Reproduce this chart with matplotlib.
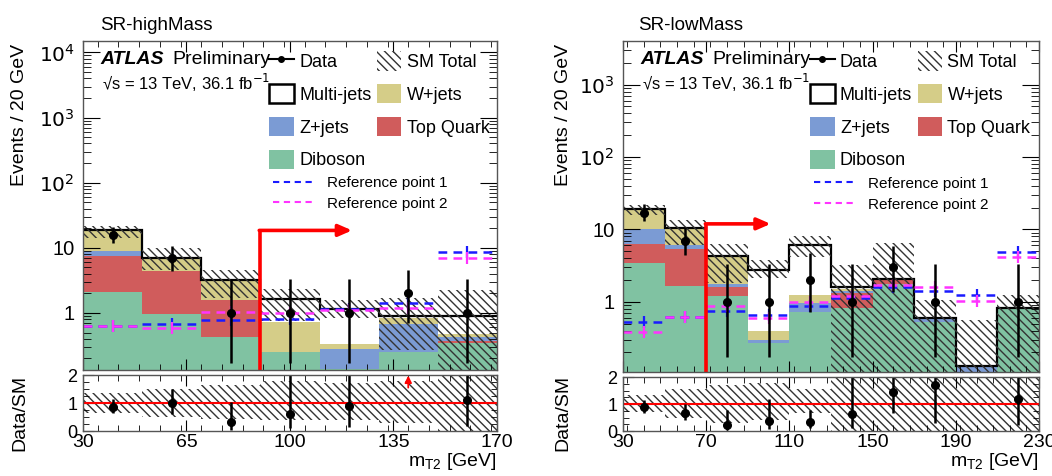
import numpy as np
import matplotlib
matplotlib.use('Agg')
import matplotlib.pyplot as plt
from matplotlib.patches import Patch
from matplotlib.lines import Line2D
from matplotlib.ticker import FixedLocator, MultipleLocator, LogLocator, FuncFormatter, NullFormatter

plt.rcParams['font.family'] = ['Liberation Sans', 'DejaVu Sans']
plt.rcParams['hatch.linewidth'] = 1.0
plt.rcParams['hatch.color'] = '#333333'

# ---------------- data: SR-highMass ----------------
hm_edges = [30, 50, 70, 90, 110, 130, 150, 170]
hm_diboson = [2.13, 0.96, 0.42, 0.25, 0.14, 0.25, 0.34]
hm_top = [5.37, 3.44, 1.16, 0.0, 0.0, 0.0, 0.03]
hm_zjets = [1.3, 0.0, 0.0, 0.0, 0.14, 0.43, 0.06]
hm_wjets = [9.7, 2.7, 1.62, 0.47, 0.05, 0.17, 0.04]
hm_multijet = [0.0, 0.0, 0.0, 0.9, 0.81, 0.06, 0.43]
hm_band_lo = [14.0, 4.6, 1.7, 0.75, 0.83, 0.27, 0.1]
hm_band_hi = [21.3, 9.9, 4.6, 2.34, 1.58, 1.7, 2.26]
hm_ratio_band_lo = [0.64, 0.51, 0.42, 0.4, 0.4, 0.28, 0.0]
hm_ratio_band_hi = [1.36, 1.5, 1.65, 1.77, 1.72, 1.77, 2.0]
hm_data = [16, 7, 1, 1, 1, 2, 1]
hm_data_lo = [3.96, 2.58, 0.83, 0.83, 0.83, 1.29, 0.83]
hm_data_hi = [5.08, 3.78, 2.30, 2.30, 2.30, 2.64, 2.30]
hm_ref1 = [0.63, 0.68, 0.78, 0.81, 1.14, 1.41, 8.5]
hm_ref2 = [0.62, 0.58, 1.05, 1.0, 1.12, 1.2, 6.9]
hm_cut = 90
hm_arrow_end = 121
hm_arrow_y = 18.5

# ---------------- data: SR-lowMass ----------------
lm_edges = [30, 50, 70, 90, 110, 130, 150, 170, 190, 210, 230]
lm_diboson = [3.4, 1.67, 1.2, 0.27, 0.73, 0.83, 1.74, 0.53, 0.0, 0.83]
lm_top = [2.9, 3.73, 0.38, 0.0, 0.0, 0.47, 0.31, 0.0, 0.0, 0.0]
lm_zjets = [3.8, 0.7, 0.16, 0.03, 0.24, 0.12, 0.0, 0.06, 0.128, 0.0]
lm_wjets = [9.1, 4.5, 2.56, 0.09, 0.27, 0.1, 0.0, 0.0, 0.0, 0.0]
lm_multijet = [0.0, 0.0, 0.0, 2.36, 4.76, 0.06, 0.0, 0.0, 0.0, 0.0]
lm_band_lo = [16.0, 6.0, 1.8, 2.1, 4.2, 0.1, 0.1, 0.1, 0.1, 0.1]
lm_band_hi = [22.0, 13.6, 6.3, 3.8, 8.0, 3.2, 6.5, 1.05, 0.56, 1.24]
lm_ratio_band_lo = [0.72, 0.48, 0.29, 0.41, 0.66, 0.0, 0.0, 0.0, 0.0, 0.0]
lm_ratio_band_hi = [1.35, 1.54, 1.72, 1.79, 1.54, 2.0, 2.0, 2.0, 2.0, 2.0]
lm_data = [17, 7, 1, 1, 2, 1, 3, 1, 0, 1]
lm_data_lo = [4.08, 2.58, 0.83, 0.83, 1.29, 0.83, 1.63, 0.83, 0.0, 0.83]
lm_data_hi = [5.20, 3.78, 2.30, 2.30, 2.64, 2.30, 2.92, 2.30, 0.0, 2.30]
lm_ref1 = [0.52, 0.61, 0.75, 0.65, 0.87, 1.14, 1.58, 1.4, 1.24, 4.8]
lm_ref2 = [0.38, 0.61, 0.88, 0.6, 0.98, 1.2, 1.7, 1.6, 1.02, 4.2]
lm_cut = 70
lm_arrow_end = 101
lm_arrow_y = 11.9

COLORS = {
    'Diboson': '#80c2a2',
    'Top Quark': '#d05c5c',
    'Z+jets': '#7b9bd4',
    'W+jets': '#d5cd88',
    'Multi-jets': 'white',
}
HATCH = '\\\\\\\\'


def log_fmt(v, pos):
    if v == 1:
        return '1'
    if v == 10:
        return '10'
    return '$10^{%d}$' % int(round(np.log10(v)))


def draw_panel(ax, rax, edges, layers, band_lo, band_hi, rband_lo, rband_hi,
               data, dlo, dhi, ref1, ref2, cut, arrow_end, arrow_y,
               ylim, xticks, title, fig_title_xy):
    edges = np.array(edges, dtype=float)
    centers = 0.5 * (edges[:-1] + edges[1:])
    widths = np.diff(edges)

    # stacked histogram
    bottom = np.zeros(len(centers))
    for name, vals in layers:
        vals = np.array(vals)
        top = bottom + vals
        ax.bar(centers, top - np.maximum(bottom, 1e-4), width=widths,
               bottom=np.maximum(bottom, 1e-4), color=COLORS[name],
               linewidth=0)
        bottom = top
    total = bottom
    ax.stairs(total, edges, color='black', linewidth=1.6, baseline=None)

    # uncertainty band
    band_lo = np.array(band_lo)
    band_hi = np.array(band_hi)
    ax.bar(centers, band_hi - band_lo, width=widths, bottom=band_lo,
           fill=False, hatch=HATCH, edgecolor='#333333', linewidth=0)

    # reference points
    for vals, col in ((ref1, '#1a1aff'), (ref2, '#ff33ff')):
        for c, w, v in zip(centers, widths, vals):
            ax.plot([c - w / 2, c + w / 2], [v, v], color=col, lw=1.8,
                    dashes=(3.5, 2.5))
            ax.plot([c], [v], marker='|', ms=9, mew=1.6, color=col)

    # data
    data = np.array(data, dtype=float)
    m = data > 0
    ax.errorbar(centers[m], data[m], yerr=[np.array(dlo)[m], np.array(dhi)[m]],
                fmt='o', color='black', ms=5.5, elinewidth=1.8, capsize=0)

    # cut arrow
    ax.plot([cut, cut], [ylim[0], arrow_y], color='red', lw=2.6,
            solid_capstyle='butt')
    ax.annotate('', xy=(arrow_end, arrow_y), xytext=(cut - 0.4, arrow_y),
                arrowprops=dict(arrowstyle='-|>,head_length=0.8,head_width=0.35',
                                color='red', lw=2.6, shrinkA=0, shrinkB=0))

    ax.set_yscale('log')
    ax.set_xlim(edges[0], edges[-1])
    ax.set_ylim(*ylim)
    ax.yaxis.set_major_locator(LogLocator(base=10, numticks=10))
    ax.yaxis.set_minor_locator(LogLocator(base=10, subs=np.arange(2, 10), numticks=20))
    ax.yaxis.set_major_formatter(FuncFormatter(log_fmt))
    ax.yaxis.set_minor_formatter(NullFormatter())
    ax.xaxis.set_major_locator(FixedLocator(xticks))
    ax.xaxis.set_minor_locator(MultipleLocator((xticks[1] - xticks[0]) / 5))
    ax.tick_params(axis='x', labelbottom=False)
    ax.tick_params(which='both', direction='in', top=True, right=True)
    ax.tick_params(axis='y', which='major', length=12, labelsize=14.5, pad=6)
    ax.tick_params(axis='y', which='minor', length=6)
    ax.tick_params(axis='x', which='major', length=8)
    ax.tick_params(axis='x', which='minor', length=4)
    for s in ax.spines.values():
        s.set_linewidth(1.0)
        s.set_color('#555555')

    # labels
    ax.text(0.041, 0.945, 'ATLAS', transform=ax.transAxes, fontsize=14,
            fontweight='bold', style='italic', va='center')
    ax.text(0.215, 0.945, 'Preliminary', transform=ax.transAxes, fontsize=14,
            va='center')
    ax.text(0.045, 0.873, '\u221as = 13 TeV, 36.1 fb$^{-1}$', transform=ax.transAxes,
            fontsize=12, va='center')
    ax.figure.text(fig_title_xy[0], fig_title_xy[1], title, fontsize=13.5,
                   va='center', ha='left')

    handles = [
        Line2D([], [], color='black', marker='o', ms=4, lw=1.5),
        Patch(facecolor='white', edgecolor='black', linewidth=1.8),
        Patch(facecolor=COLORS['Z+jets']),
        Patch(facecolor=COLORS['Diboson']),
        Patch(facecolor='none', hatch=HATCH, edgecolor='#333333', linewidth=0),
        Patch(facecolor=COLORS['W+jets']),
        Patch(facecolor=COLORS['Top Quark']),
    ]
    labels = ['Data', 'Multi-jets', 'Z+jets', 'Diboson', 'SM Total', 'W+jets', 'Top Quark']
    leg = ax.legend(handles, labels, ncol=2, loc='upper left',
                    bbox_to_anchor=(0.45, 0.97), frameon=False, fontsize=13,
                    handlelength=1.35, handleheight=1.3, handletextpad=0.3,
                    labelspacing=0.72, columnspacing=0.3, borderpad=0,
                    borderaxespad=0)
    ax.add_artist(leg)
    ref_handles = [Line2D([], [], color='#1a1aff', lw=1.5, dashes=(3, 2.2)),
                   Line2D([], [], color='#ff33ff', lw=1.5, dashes=(3, 2.2))]
    ax.legend(ref_handles, ['Reference point 1', 'Reference point 2'],
              loc='upper left', bbox_to_anchor=(0.46, 0.59), frameon=False,
              fontsize=11, handlelength=2.8, handletextpad=0.7,
              labelspacing=0.45, borderpad=0, borderaxespad=0)

    # ratio panel
    rax.bar(centers, np.array(rband_hi) - np.array(rband_lo), width=widths,
            bottom=rband_lo, fill=False, hatch=HATCH, edgecolor='#333333',
            linewidth=0)
    rax.axhline(1.0, color='red', lw=1.5)
    ratio = data[m] / total[m]
    rlo = np.array(dlo)[m] / total[m]
    rhi = np.array(dhi)[m] / total[m]
    inside = ratio <= 2.0
    rax.errorbar(centers[m][inside], ratio[inside],
                 yerr=[rlo[inside], rhi[inside]], fmt='o', color='black',
                 ms=5.5, elinewidth=1.8, capsize=0)
    for c in centers[m][~inside]:
        rax.annotate('', xy=(c, 1.98), xytext=(c, 1.55),
                     arrowprops=dict(arrowstyle='-|>,head_length=0.4,head_width=0.2',
                                     color='red', lw=1.3, shrinkA=0, shrinkB=0))
    rax.set_xlim(edges[0], edges[-1])
    rax.set_ylim(0, 2)
    rax.yaxis.set_major_locator(FixedLocator([0, 1, 2]))
    rax.yaxis.set_minor_locator(MultipleLocator(0.25))
    rax.xaxis.set_major_locator(FixedLocator(xticks))
    rax.xaxis.set_minor_locator(MultipleLocator((xticks[1] - xticks[0]) / 5))
    rax.tick_params(which='both', direction='in', top=True, right=True)
    rax.tick_params(axis='x', which='major', length=8, labelsize=14, pad=2)
    rax.tick_params(axis='x', which='minor', length=4)
    rax.tick_params(axis='y', which='major', length=8, labelsize=13, pad=4)
    rax.tick_params(axis='y', which='minor', length=4)
    for s in rax.spines.values():
        s.set_linewidth(1.0)
        s.set_color('#555555')


fig = plt.figure(figsize=(10.52, 4.76), dpi=100)
ax1 = fig.add_axes([0.0789, 0.2227, 0.3935, 0.6912])
rax1 = fig.add_axes([0.0789, 0.0945, 0.3935, 0.1176])
ax2 = fig.add_axes([0.5922, 0.2185, 0.3954, 0.6954])
rax2 = fig.add_axes([0.5922, 0.0945, 0.3954, 0.1134])

hm_layers = [('Diboson', hm_diboson), ('Top Quark', hm_top), ('Z+jets', hm_zjets),
             ('W+jets', hm_wjets), ('Multi-jets', hm_multijet)]
lm_layers = [('Diboson', lm_diboson), ('Top Quark', lm_top), ('Z+jets', lm_zjets),
             ('W+jets', lm_wjets), ('Multi-jets', lm_multijet)]

draw_panel(ax1, rax1, hm_edges, hm_layers, hm_band_lo, hm_band_hi,
           hm_ratio_band_lo, hm_ratio_band_hi, hm_data, hm_data_lo, hm_data_hi,
           hm_ref1, hm_ref2, hm_cut, hm_arrow_end, hm_arrow_y,
           (0.133, 1.5e4), [30, 65, 100, 135, 170], 'SR-highMass',
           (100 / 1052, 1 - 26 / 476))
draw_panel(ax2, rax2, lm_edges, lm_layers, lm_band_lo, lm_band_hi,
           lm_ratio_band_lo, lm_ratio_band_hi, lm_data, lm_data_lo, lm_data_hi,
           lm_ref1, lm_ref2, lm_cut, lm_arrow_end, lm_arrow_y,
           (0.107, 4000), [30, 70, 110, 150, 190, 230], 'SR-lowMass',
           (638 / 1052, 1 - 25 / 476))

for x in (20 / 1052, 563 / 1052):
    fig.text(x, 1 - 115 / 476, 'Events / 20 GeV', rotation=90, fontsize=14,
             ha='center', va='center')
    fig.text(x, 1 - 413 / 476, 'Data/SM', rotation=90, fontsize=14,
             ha='center', va='center')
fig.text(497 / 1052, 1 - 462 / 476, '$\\mathregular{m_{T2}}$ [GeV]', fontsize=14,
         ha='right', va='center')
fig.text(1039 / 1052, 1 - 462 / 476, '$\\mathregular{m_{T2}}$ [GeV]', fontsize=14,
         ha='right', va='center')

fig.savefig('out.png', dpi=100)
